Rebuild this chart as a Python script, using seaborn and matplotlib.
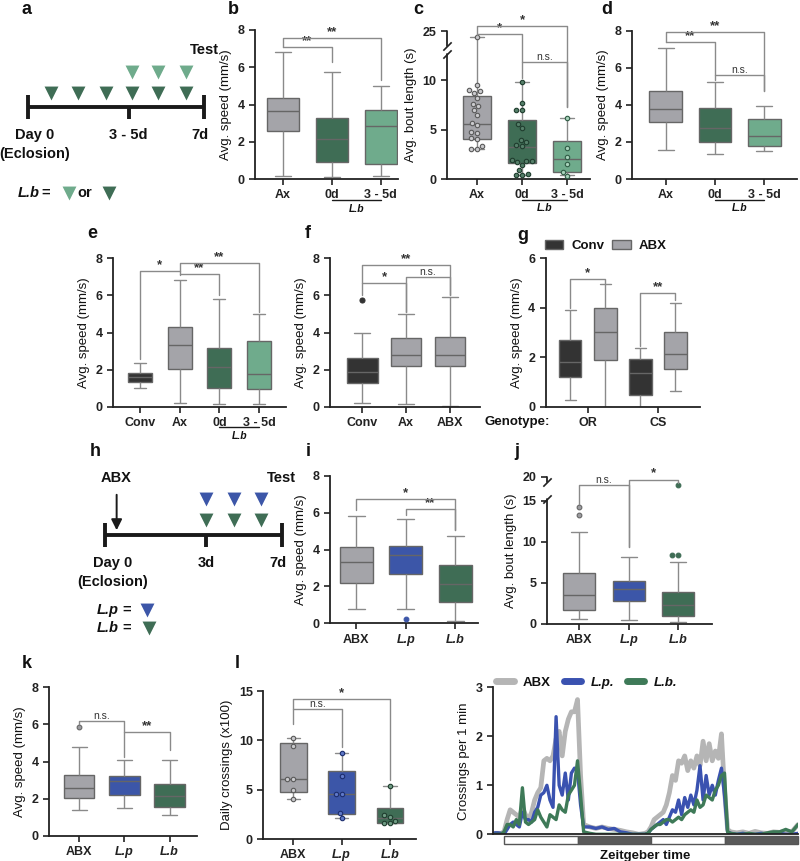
import numpy as np
import pandas as pd
import seaborn as sns
import matplotlib.pyplot as plt
from matplotlib.patches import Patch, Rectangle
from matplotlib.lines import Line2D

# ---------------- values ----------------
# every box is given as [min, q1, median, q3, max]
b_groups = ["Ax", "0d", "3 - 5d"]
b_stats = [[0.18, 2.58, 3.63, 4.34, 6.8], [0.13, 0.9, 2.13, 3.26, 5.75], [0.16, 0.79, 2.87, 3.71, 4.97]]

c_groups = ["Ax", "0d", "3 - 5d"]
c_stats = [[3.0, 4.1, 5.55, 8.4, 22.0], [0.4, 1.65, 3.2, 6.0, 9.8], [0.37, 0.75, 2.0, 3.87, 6.2]]
c_points = [[22.0, 9.5, 9.0, 8.9, 8.7, 8.2, 7.6, 7.4, 7.0, 6.5, 5.7, 5.5, 4.8, 4.7, 4.2, 4.1, 3.3, 3.0, 3.0],
            [9.8, 7.7, 7.0, 7.0, 5.6, 5.2, 4.0, 3.7, 3.4, 3.3, 1.9, 1.8, 1.8, 1.7, 1.4, 0.9, 0.5, 0.4, 0.4],
            [6.2, 3.1, 2.2, 1.5, 0.75, 0.35]]

d_groups = ["Ax", "0d", "3 - 5d"]
d_stats = [[1.56, 3.09, 3.78, 4.75, 7.07], [1.35, 2.01, 2.73, 3.81, 5.21], [1.53, 1.78, 2.34, 3.24, 3.94]]

e_groups = ["Conv", "Ax", "0d", "3 - 5d"]
e_stats = [[1.02, 1.35, 1.6, 1.8, 2.37], [0.18, 2.01, 3.33, 4.28, 6.83],
           [0.13, 0.99, 2.12, 3.15, 5.79], [0.16, 0.95, 1.75, 3.56, 5.0]]

f_groups = ["Conv", "Ax", "ABX"]
f_stats = [[0.18, 1.29, 1.89, 2.64, 3.96], [0.15, 2.19, 2.79, 3.72, 5.0], [0.05, 2.21, 2.79, 3.77, 5.9]]
f_outliers = [[5.75], [], []]

g_genotypes = ["OR", "CS"]
g_conditions = ["Conv", "ABX"]
g_conv_stats = [[0.26, 1.19, 1.82, 2.7, 3.89], [0.0, 0.47, 1.35, 1.92, 2.36]]
g_abx_stats = [[0.0, 1.88, 3.01, 3.98, 4.96], [0.65, 1.53, 2.12, 3.02, 4.21]]

bac_groups = ["ABX", "L.p", "L.b"]
i_stats = [[0.76, 2.17, 3.3, 4.15, 5.83], [0.8, 2.65, 3.72, 4.2, 5.64], [0.14, 1.14, 2.11, 3.16, 4.73]]
i_outliers = [[], [0.22], []]
j_stats = [[0.57, 1.71, 3.54, 6.18, 11.18], [0.49, 2.85, 4.23, 5.24, 8.13], [0.28, 0.93, 2.32, 3.86, 7.6]]
j_outliers = [[13.3, 14.3], [], [8.4, 8.4, 18.3]]
k_stats = [[1.4, 2.03, 2.56, 3.26, 4.77], [1.52, 2.2, 2.94, 3.23, 4.09], [1.15, 1.56, 2.17, 2.78, 4.09]]
k_outliers = [[5.85], [], []]
l_stats = [[4.05, 4.79, 6.1, 9.7, 10.26], [2.1, 2.53, 4.59, 6.92, 8.74], [1.6, 1.65, 2.1, 3.11, 5.37]]
l_points = [[10.2, 9.45, 6.05, 6.05, 4.95, 4.05], [8.7, 6.35, 4.6, 4.55, 2.65, 2.1], [5.4, 2.4, 2.2, 1.8, 1.65, 1.6]]

# significance brackets: (group i, group j, bar level, drop end at i, drop end at j, label)
b_sig = [(0, 2, 7.55, 7.08, 5.3, "**"), (0, 1, 7.08, 7.08, 6.3, "**")]
c_sig = [(0, 2, 27.3, 23.6, 7.3, "*"), (0, 1, 23.6, 22.8, 10.2, "*"), (1, 2, 11.85, 11.85, 7.3, "n.s.")]
d_sig = [(0, 2, 7.91, 7.4, 4.76, "**"), (0, 1, 7.4, 7.4, 5.35, "**"), (1, 2, 5.6, 5.6, 4.76, "n.s.")]
e_sig = [(1, 3, 7.76, 7.1, 5.12, "**"), (1, 2, 7.15, 7.15, 6.02, "**"), (0, 1, 7.33, 2.55, 7.33, "*")]
f_sig = [(0, 2, 7.64, 6.65, 6.02, "**"), (0, 1, 6.65, 6.02, 5.12, "*"), (1, 2, 7.0, 5.12, 6.02, "n.s.")]
g_sig = [(-0.25, 0.25, 5.16, 4.0, 4.98, "*"), (0.75, 1.25, 4.59, 2.45, 4.3, "**")]
i_sig = [(0, 2, 6.74, 6.14, 5.06, "*"), (1, 2, 6.2, 5.87, 5.06, "**")]
j_sig = [(0, 1, 18.3, 14.6, 9.4, "n.s."), (1, 2, 19.4, 9.4, 18.7, "*")]
k_sig = [(0, 1, 6.2, 6.05, 4.26, "n.s."), (1, 2, 5.6, 5.6, 4.62, "**")]
l_sig = [(0, 2, 14.15, 13.14, 6.0, "*"), (0, 1, 13.14, 11.7, 9.35, "n.s.")]

# time course, crossings per 1 min (Zeitgeber time in hours)
zt_hours = [-1.5, -1.0, -0.5, 0.0, 0.5, 1.0, 1.5, 2.0, 2.5, 3.0, 3.5, 4.0, 4.5, 5.0, 5.5, 6.0, 6.5, 7.0, 7.5, 8.0,
            8.5, 9.0, 9.5, 10.0, 10.5, 11.0, 11.5, 12.0, 12.5, 13.0,
            14, 15, 16, 17, 18, 19, 20, 21, 22, 23,
            23.5, 24.0, 24.5, 25.0, 25.5, 26.0, 26.5, 27.0, 27.5, 28.0, 28.5, 29.0, 29.5, 30.0, 30.5, 31.0, 31.5,
            32.0, 32.5, 33.0, 33.5, 34.0, 34.5, 35.0, 35.5, 36.0, 36.5, 37.0,
            38, 39, 40, 41, 42, 43, 44, 45, 46, 47, 48]
abx_cross = [0.02, 0.02, 0.02, 0.05, 0.3, 0.5, 0.45, 0.4, 0.35, 0.55, 0.4, 0.3, 0.45, 0.7, 0.85, 0.95, 1.5, 1.55, 1.5, 1.6,
             1.95, 2.1, 1.6, 2.1, 2.35, 2.5, 2.5, 2.75, 1.2, 0.2,
             0.15, 0.12, 0.15, 0.12, 0.1, 0.08, 0.05, 0.03, 0.0, 0.02,
             0.05, 0.15, 0.3, 0.35, 0.4, 0.45, 0.6, 0.85, 1.2, 1.1, 1.5, 1.45, 1.6, 1.3, 1.5, 1.35, 1.6,
             1.4, 1.9, 1.5, 1.85, 1.5, 1.7, 1.55, 2.05, 0.9, 0.1, 0.05,
             0.03, 0.05, 0.02, 0.06, 0.03, 0.02, 0.05, 0.04, 0.06, 0.05, 0.2]
lp_cross = [0.03, 0.03, 0.02, 0.0, 0.1, 0.2, 0.25, 0.2, 0.15, 0.45, 0.3, 0.3, 0.25, 0.45, 0.55, 0.8, 0.85, 1.0, 0.7, 0.55,
            2.4, 1.0, 0.8, 1.25, 0.7, 1.25, 1.35, 1.3, 0.6, 0.15,
            0.15, 0.12, 0.15, 0.1, 0.12, 0.05, 0.03, 0.0, 0.0, 0.0,
            0.02, 0.1, 0.15, 0.2, 0.25, 0.3, 0.2, 0.35, 0.5, 0.45, 0.7, 0.4, 0.75, 0.55, 0.8, 0.6, 0.9,
            1.4, 0.7, 1.2, 0.8, 1.0, 0.8, 1.1, 1.35, 0.8, 0.05, 0.02,
            0.0, 0.02, 0.0, 0.0, 0.02, 0.0, 0.0, 0.02, 0.0, 0.0, 0.02]
lb_cross = [0.0, 0.0, 0.0, 0.05, 0.2, 0.2, 0.15, 0.3, 0.2, 0.95, 0.25, 0.2, 0.25, 0.3, 0.5, 0.35, 0.25, 0.15, 0.4, 0.35,
            0.3, 0.6, 0.5, 0.45, 0.8, 0.9, 1.0, 1.5, 0.8, 0.05,
            0.02, 0.0, 0.0, 0.0, 0.0, 0.0, 0.0, 0.0, 0.0, 0.0,
            0.02, 0.1, 0.15, 0.2, 0.2, 0.25, 0.3, 0.3, 0.25, 0.3, 0.35, 0.3, 0.4, 0.45, 0.5, 0.45, 0.7,
            0.55, 0.6, 0.8, 0.75, 0.7, 0.9, 1.0, 1.2, 1.25, 0.05, 0.02,
            0.0, 0.0, 0.02, 0.0, 0.0, 0.03, 0.05, 0.05, 0.1, 0.05, 0.2]
ld_starts = [0, 12, 24, 36]
ld_ends = [12, 24, 36, 48]

# schematics (days after eclosion)
a_dark_days = [0.9, 2.0, 3.1, 4.12, 5.18, 6.27]
a_light_days = [4.12, 5.18, 6.27]
h_bact_days = [3.99, 5.1, 6.17]

# ---------------- style ----------------
GRAY = "#a4a4a9"
DKGREEN = "#3f6d55"
LTGREEN = "#6fab8c"
CONV = "#333333"
BLUE = "#3c56a8"
LINE = "#666666"
WHISK = "#8a8a8a"
SPINE = "#222222"

sns.set_theme(style="ticks")
plt.rcParams["font.family"] = ["Liberation Sans", "DejaVu Sans"]
plt.rcParams["text.color"] = "#111111"
plt.rcParams["axes.labelcolor"] = "#111111"
plt.rcParams["xtick.color"] = SPINE
plt.rcParams["ytick.color"] = SPINE

W, H = 800, 861
fig = plt.figure(figsize=(8, 8.61), dpi=100)


def px_axes(left, top, right, bottom):
    return fig.add_axes([left / W, 1 - bottom / H, (right - left) / W, (bottom - top) / H])


BOX_KW = dict(saturation=1, whis=(0, 100), linecolor=LINE, linewidth=1.0, showfliers=False, legend=False,
              whiskerprops=dict(color=WHISK), capprops=dict(color=WHISK))


def box_panel(ax, groups, stats, colors, width=0.65):
    df = pd.DataFrame({"group": np.repeat(groups, 5), "value": np.concatenate(stats)})
    sns.boxplot(data=df, x="group", y="value", hue="group", order=groups, hue_order=groups,
                palette=dict(zip(groups, colors)), width=width, ax=ax, **BOX_KW)


def dots(ax, groups, values, faces, edges, size=3.2):
    for g, vals, fc, ec in zip(groups, values, faces, edges):
        if len(vals) == 0:
            continue
        sns.swarmplot(x=[g] * len(vals), y=vals, order=groups, color=fc, edgecolor=ec,
                      linewidth=0.8, size=size, ax=ax, zorder=3)


def brackets(ax, sig):
    for x1, x2, y, y1, y2, txt in sig:
        ax.plot([x1, x1, x2, x2], [y1, y, y, y2], color=WHISK, lw=1.0, clip_on=False, zorder=4)
        if "*" in txt:
            ax.text((x1 + x2) / 2, y, txt, ha="center", va="bottom", fontsize=9.5, fontweight="bold",
                    color="#333333", linespacing=0.8)
        else:
            ax.text((x1 + x2) / 2, y, txt, ha="center", va="bottom", fontsize=7.5, color="#333333")


def finish(ax, ylabel, ylim, yticks, xlim):
    ax.set_xlim(*xlim)
    ax.set_ylim(*ylim)
    ax.set_yticks(yticks)
    ax.set_xlabel("")
    ax.set_ylabel(ylabel, fontsize=9.5)
    sns.despine(ax=ax)
    ax.tick_params(length=4, width=1.2, labelsize=9)
    for s in ("left", "bottom"):
        ax.spines[s].set_linewidth(1.3)
        ax.spines[s].set_color(SPINE)
    for t in ax.get_xticklabels() + ax.get_yticklabels():
        t.set_fontweight("bold")


def italic_bacteria(ax):
    for t in ax.get_xticklabels():
        if t.get_text() != "ABX":
            t.set_fontstyle("italic")


def group_line(ax, x1, x2, label):
    tr = ax.get_xaxis_transform()
    ax.plot([x1, x2], [-0.14, -0.14], color="k", lw=1.0, transform=tr, clip_on=False)
    ax.text((x1 + x2) / 2, -0.165, label, transform=tr, ha="center", va="top",
            fontsize=7.5, fontstyle="italic", fontweight="bold")


def broken_spine(ax, lo, hi, ymax):
    ax.spines["left"].set_visible(False)
    tr = ax.get_yaxis_transform()
    ax.plot([0, 0], [0, lo], color=SPINE, lw=1.3, transform=tr, clip_on=False)
    ax.plot([0, 0], [hi, ymax], color=SPINE, lw=1.3, transform=tr, clip_on=False)
    ax.plot([0, 0], [lo, hi], transform=tr, ls="none", marker=[(-1, -1), (1, 1)], ms=6,
            mew=1.2, color=SPINE, mec=SPINE, clip_on=False)


def c_fwd(v):
    v = np.asarray(v, float)
    return np.where(v <= 12.5, v, 12.5 + (v - 12.5) * 0.2)


def c_inv(d):
    d = np.asarray(d, float)
    return np.where(d <= 12.5, d, 12.5 + (d - 12.5) / 0.2)


def j_fwd(v):
    v = np.asarray(v, float)
    return np.where(v <= 15, v, 15 + (v - 15) * 0.59)


def j_inv(d):
    d = np.asarray(d, float)
    return np.where(d <= 15, d, 15 + (d - 15) / 0.59)


GREENS = [GRAY, DKGREEN, LTGREEN]
BACT = [GRAY, BLUE, DKGREEN]
SPEED = "Avg. speed (mm/s)"

# ---- a: schematic
ax = px_axes(0, 20, 260, 210)
ax.set_xlim(-1.114, 9.228)
ax.set_ylim(210, 20)
ax.axis("off")
ax.plot([0, 7], [107, 107], color="k", lw=2.8, solid_capstyle="butt")
for d, top in zip([0, 4, 7], [95, 107, 95]):
    ax.plot([d, d], [top, 119], color="k", lw=2.8, solid_capstyle="butt")
ax.scatter(a_dark_days, [93] * len(a_dark_days), marker="v", s=100, color=DKGREEN, lw=0)
ax.scatter(a_light_days, [72] * len(a_light_days), marker="v", s=100, color=LTGREEN, lw=0)
TXT = dict(ha="center", va="center", fontsize=10.5, fontweight="bold")
ax.text(7.02, 50, "Test", **TXT)
ax.text(0.28, 135, "Day 0", **TXT)
ax.text(0.28, 154, "(Eclosion)", **TXT)
ax.text(4, 135, "3 - 5d", **TXT)
ax.text(6.84, 135, "7d", **TXT)
ax.text(0.48, 193, "L.b", ha="right", va="center", fontsize=10.5, fontweight="bold", fontstyle="italic")
ax.text(0.72, 193, "=", **TXT)
ax.scatter([1.63], [193], marker="v", s=100, color=LTGREEN, lw=0)
ax.text(2.27, 193, "or", **TXT)
ax.scatter([3.22], [193], marker="v", s=100, color=DKGREEN, lw=0)

# ---- b
ax = px_axes(255, 30, 398, 179)
box_panel(ax, b_groups, b_stats, GREENS)
brackets(ax, b_sig)
finish(ax, SPEED, (0, 8), [0, 2, 4, 6, 8], (-0.571, 2.35))
group_line(ax, 1, 2, "L.b")

# ---- c (broken axis)
ax = px_axes(447, 31, 590, 179)
box_panel(ax, c_groups, c_stats, GREENS, width=0.64)
dots(ax, c_groups, c_points, ["#cacacd", "#557f69", "#a7d2ba"], ["#5a5a5a", "#1f3d2e", "#2f5c45"])
ax.set_yscale("function", functions=(c_fwd, c_inv))
brackets(ax, c_sig)
finish(ax, "Avg. bout length (s)", (0, 25), [0, 5, 10, 25], (-0.667, 2.51))
ax.yaxis.set_minor_locator(plt.NullLocator())
broken_spine(ax, 13.5, 17.5, 25)
group_line(ax, 1, 2, "L.b")

# ---- d
ax = px_axes(632, 30.7, 797, 179)
box_panel(ax, d_groups, d_stats, GREENS, width=0.67)
brackets(ax, d_sig)
finish(ax, SPEED, (0, 8), [0, 2, 4, 6, 8], (-0.69, 2.67))
group_line(ax, 1, 2, "L.b")

# ---- e
ax = px_axes(113, 258.3, 286, 406.7)
box_panel(ax, e_groups, e_stats, [CONV, GRAY, DKGREEN, LTGREEN], width=0.6)
brackets(ax, e_sig)
finish(ax, SPEED, (0, 8), [0, 2, 4, 6, 8], (-0.68, 3.68))
group_line(ax, 2, 3, "L.b")

# ---- f
ax = px_axes(330, 258.3, 480, 406.7)
box_panel(ax, f_groups, f_stats, [CONV, GRAY, GRAY], width=0.7)
dots(ax, f_groups, f_outliers, [CONV, GRAY, GRAY], [CONV, LINE, LINE], size=3.6)
brackets(ax, f_sig)
finish(ax, SPEED, (0, 8), [0, 2, 4, 6, 8], (-0.73, 2.68))

# ---- g
ax = px_axes(545.7, 258.3, 700, 406.7)
g_df = pd.DataFrame({
    "genotype": np.repeat(g_genotypes * 2, 5),
    "condition": np.repeat([g_conditions[0]] * 2 + [g_conditions[1]] * 2, 5),
    "value": np.concatenate(g_conv_stats + g_abx_stats),
})
sns.boxplot(data=g_df, x="genotype", y="value", hue="condition", order=g_genotypes, hue_order=g_conditions,
            palette=[CONV, GRAY], dodge=True, width=1.0, gap=0.36, ax=ax, **BOX_KW)
brackets(ax, g_sig)
finish(ax, SPEED, (0, 6), [0, 2, 4, 6], (-0.6, 1.6))
ax.text(-1.0, -0.105, "Genotype:", transform=ax.get_xaxis_transform(), ha="center", va="center",
        fontsize=9.5, fontweight="bold")
fig.legend([Patch(facecolor=CONV, edgecolor=LINE), Patch(facecolor=GRAY, edgecolor=LINE)], g_conditions,
           loc="center left", bbox_to_anchor=(545 / W, 1 - 246 / H), ncol=2, frameon=False,
           handlelength=1.4, handleheight=0.6, handletextpad=0.6, columnspacing=0.6,
           borderpad=0, borderaxespad=0, prop=dict(weight="bold", size=9.5))

# ---- h: schematic
ax = px_axes(0, 440, 300, 650)
ax.set_xlim(-4.152, 7.71)
ax.set_ylim(650, 440)
ax.axis("off")
ax.plot([0, 7], [535, 535], color="k", lw=2.8, solid_capstyle="butt")
for d, top in zip([0, 4, 7], [523, 535, 523]):
    ax.plot([d, d], [top, 547], color="k", lw=2.8, solid_capstyle="butt")
ax.annotate("", xy=(0.46, 533), xytext=(0.46, 492),
            arrowprops=dict(arrowstyle="-|>", color="k", lw=1.4, mutation_scale=16))
ax.scatter(h_bact_days, [499] * len(h_bact_days), marker="v", s=100, color=BLUE, lw=0)
ax.scatter(h_bact_days, [520] * len(h_bact_days), marker="v", s=100, color=DKGREEN, lw=0)
ax.text(0.43, 478, "ABX", **TXT)
ax.text(6.96, 478, "Test", **TXT)
ax.text(0.32, 563, "Day 0", **TXT)
ax.text(0.32, 582, "(Eclosion)", **TXT)
ax.text(4.0, 563, "3d", **TXT)
ax.text(6.84, 563, "7d", **TXT)
ax.text(0.55, 610, "L.p", ha="right", va="center", fontsize=10.5, fontweight="bold", fontstyle="italic")
ax.text(0.87, 610, "=", **TXT)
ax.scatter([1.66], [610], marker="v", s=100, color=BLUE, lw=0)
ax.text(0.55, 628, "L.b", ha="right", va="center", fontsize=10.5, fontweight="bold", fontstyle="italic")
ax.text(0.87, 628, "=", **TXT)
ax.scatter([1.74], [628], marker="v", s=100, color=DKGREEN, lw=0)

# ---- i
ax = px_axes(330, 475.7, 478, 623.3)
box_panel(ax, bac_groups, i_stats, BACT, width=0.67)
dots(ax, bac_groups, i_outliers, [GRAY, BLUE, DKGREEN], [LINE, BLUE, DKGREEN], size=3.4)
brackets(ax, i_sig)
finish(ax, SPEED, (0, 8), [0, 2, 4, 6, 8], (-0.53, 2.46))
italic_bacteria(ax)

# ---- j (broken axis)
ax = px_axes(546.7, 476.7, 711.7, 624)
box_panel(ax, bac_groups, j_stats, BACT, width=0.65)
dots(ax, bac_groups, j_outliers, ["#9c9ca0", BLUE, DKGREEN], [LINE, BLUE, DKGREEN], size=3.4)
ax.set_yscale("function", functions=(j_fwd, j_inv))
brackets(ax, j_sig)
finish(ax, "Avg. bout length (s)", (0, 20), [0, 5, 10, 15, 20], (-0.66, 2.68))
ax.yaxis.set_minor_locator(plt.NullLocator())
broken_spine(ax, 15.3, 19.0, 20)
italic_bacteria(ax)

# ---- k
ax = px_axes(49.3, 687.3, 196.7, 836)
box_panel(ax, bac_groups, k_stats, BACT, width=0.67)
dots(ax, bac_groups, k_outliers, ["#9c9ca0", BLUE, DKGREEN], [LINE, BLUE, DKGREEN], size=3.4)
brackets(ax, k_sig)
finish(ax, SPEED, (0, 8), [0, 2, 4, 6, 8], (-0.66, 2.6))
italic_bacteria(ax)

# ---- l
ax = px_axes(263.3, 691, 416, 839)
box_panel(ax, bac_groups, l_stats, BACT, width=0.55)
dots(ax, bac_groups, l_points, ["#cacacd", "#5f78c8", "#6f9c84"], ["#5a5a5a", "#1c2d6e", "#1f3d2e"])
brackets(ax, l_sig)
finish(ax, "Daily crossings (x100)", (0, 15), [0, 5, 10, 15], (-0.62, 2.54))
italic_bacteria(ax)

# ---- time course
ax = px_axes(492.7, 687.3, 798, 834.3)
sns.lineplot(x=zt_hours, y=abx_cross, color="#b5b5b5", lw=3.4, ax=ax)
sns.lineplot(x=zt_hours, y=lp_cross, color="#3a52b0", lw=2.4, ax=ax)
sns.lineplot(x=zt_hours, y=lb_cross, color="#3e7a58", lw=2.4, ax=ax)
finish(ax, "Crossings per 1 min", (0, 3), [0, 1, 2, 3], (-1.85, 48))
ax.set_xticks([])
ax.set_xlabel("Zeitgeber time", fontsize=9.5, fontweight="bold", labelpad=11)
tr = ax.get_xaxis_transform()
for start, end, fc in zip(ld_starts, ld_ends, ["white", "#5a5a5a", "white", "#5a5a5a"]):
    ax.add_patch(Rectangle((start, -0.068), end - start, 0.056, transform=tr, facecolor=fc,
                           edgecolor="#555555", lw=1.0, clip_on=False))
leg = ax.legend([Line2D([], [], color="#b5b5b5", lw=5), Line2D([], [], color="#3a52b0", lw=5),
                 Line2D([], [], color="#3e7a58", lw=5)], ["ABX", "L.p.", "L.b."],
                loc="center left", bbox_to_anchor=(0.012, 1.03), ncol=3, frameon=False,
                handlelength=1.3, handletextpad=0.7, columnspacing=1.0, borderpad=0, borderaxespad=0,
                prop=dict(weight="bold", size=9.5))
for t in leg.get_texts()[1:]:
    t.set_fontstyle("italic")

# ---- panel letters
for letter, x, y in [("a", 27, 9), ("b", 233, 9), ("c", 418, 9), ("d", 607, 9), ("e", 92, 234),
                     ("f", 308, 234), ("g", 523, 236), ("h", 95, 451), ("i", 308, 451), ("j", 517, 452),
                     ("k", 27, 663), ("l", 237, 663)]:
    fig.text(x / W, 1 - y / H, letter, ha="center", va="center", fontsize=13, fontweight="bold")

fig.savefig("out.png", dpi=100)
